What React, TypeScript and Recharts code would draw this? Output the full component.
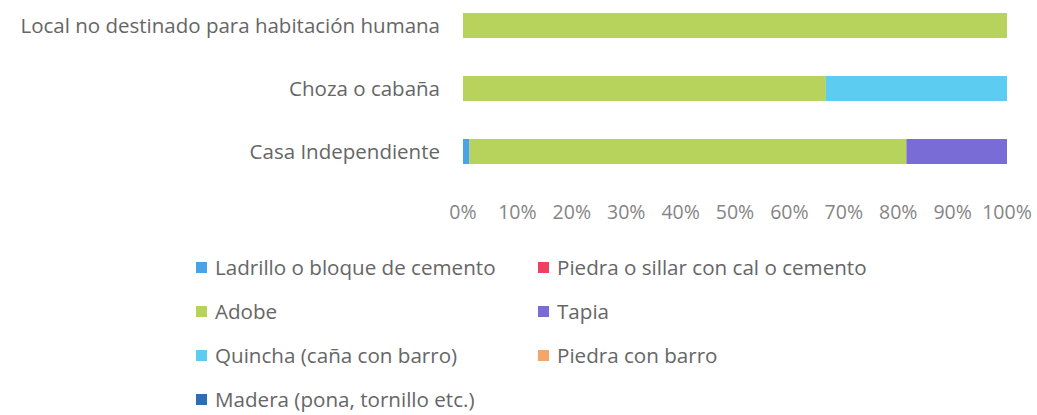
import React from 'react';
import { BarChart, Bar, XAxis, YAxis } from 'recharts';

const CATEGORIES = ['Local no destinado para habitación humana', 'Choza o cabaña', 'Casa Independiente'];

const SERIES = [
  'Ladrillo o bloque de cemento',
  'Piedra o sillar con cal o cemento',
  'Adobe',
  'Tapia',
  'Quincha (caña con barro)',
  'Piedra con barro',
  'Madera (pona, tornillo etc.)',
];

// share of each material per dwelling type (fractions)
const LADRILLO = [0, 0, 0.012];
const PIEDRA_CAL = [0, 0, 0];
const ADOBE = [1, 0.667, 0.803];
const TAPIA = [0, 0, 0.185];
const QUINCHA = [0, 0.333, 0];
const PIEDRA_BARRO = [0, 0, 0];
const MADERA = [0, 0, 0];

const VALUES = [LADRILLO, PIEDRA_CAL, ADOBE, TAPIA, QUINCHA, PIEDRA_BARRO, MADERA];

const COLORS = ['#4ba3e6', '#ec4260', '#b7d35c', '#7a6cd6', '#5cccf0', '#f4a66a', '#2f6db3'];

const X_TICKS = [0, 0.1, 0.2, 0.3, 0.4, 0.5, 0.6, 0.7, 0.8, 0.9, 1];

const data = CATEGORIES.map((name, i) => {
  const row: Record<string, string | number> = { name };
  SERIES.forEach((s, j) => {
    row[s] = VALUES[j][i];
  });
  return row;
});

const FONT = '"Open Sans", sans-serif';

export default function App() {
  return (
    <div style={{ position: 'absolute', left: 0, top: 0, width: 1037, height: 415, background: '#fff', fontFamily: FONT, overflow: 'hidden' }}>
      <BarChart
        width={1037}
        height={230}
        data={data}
        layout="vertical"
        margin={{ top: -6, right: 30, bottom: 0, left: 0 }}
      >
        <XAxis
          type="number"
          domain={[0, 1]}
          ticks={X_TICKS}
          tickFormatter={(v: number) => `${Math.round(v * 100)}%`}
          axisLine={false}
          tickLine={false}
          tickSize={0}
          tickMargin={22}
          height={47}
          interval={0}
          tick={{ fill: '#858585', fontSize: 19.5, fontFamily: FONT }}
        />
        <YAxis
          type="category"
          dataKey="name"
          width={463}
          axisLine={false}
          tickLine={false}
          tickSize={0}
          tickMargin={23}
          tick={{ fill: '#666666', fontSize: 20.5, fontFamily: FONT }}
        />
        {SERIES.map((s, j) => (
          <Bar key={s} dataKey={s} stackId="a" fill={COLORS[j]} barSize={25} isAnimationActive={false} />
        ))}
      </BarChart>
      {SERIES.map((s, j) => (
        <div
          key={s}
          style={{
            position: 'absolute',
            left: j % 2 === 0 ? 196 : 538,
            top: 254 + Math.floor(j / 2) * 44,
            display: 'flex',
            alignItems: 'center',
            gap: 8,
            fontSize: 20.6,
            lineHeight: '26px',
            color: '#666666',
            whiteSpace: 'nowrap',
            height: 26,
          }}
        >
          <div style={{ width: 11, height: 11, background: COLORS[j] }} />
          <span>{s}</span>
        </div>
      ))}
    </div>
  );
}
